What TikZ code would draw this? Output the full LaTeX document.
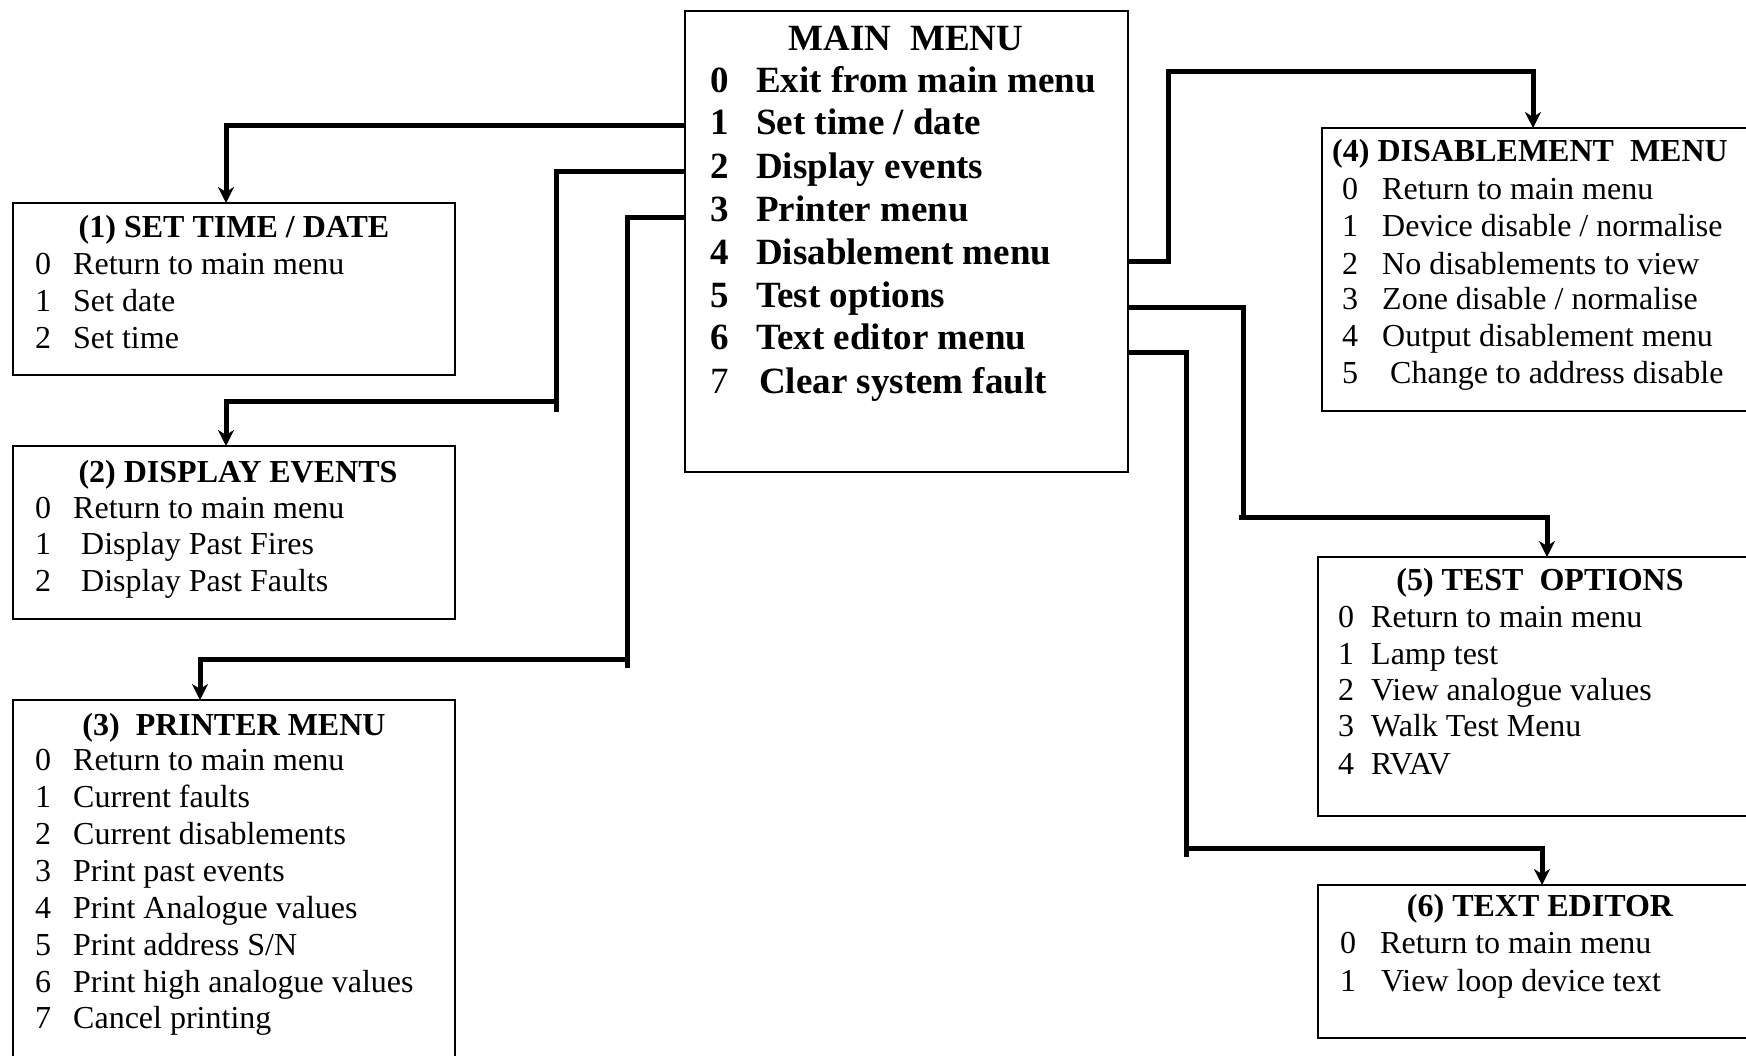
\documentclass[tikz,border=0pt]{standalone}
\usepackage{fontspec}
\setmainfont{Liberation Serif}
\usetikzlibrary{arrows.meta}
\begin{document}
\begin{tikzpicture}[x=1pt,y=-1pt,
  menubox/.style={draw, line width=2pt, anchor=north west, inner sep=0pt, outer sep=0pt},
  link/.style={line width=5pt, line join=miter},
  tip/.style={-{Stealth[length=16pt,width=16pt,inset=5pt]}},
  st/.style={anchor=mid west, inner sep=0pt, font=\fontsize{32}{36}\selectfont},
  sb/.style={anchor=mid, inner sep=0pt, font=\fontsize{32}{36}\selectfont\bfseries},
  mt/.style={anchor=mid west, inner sep=0pt, font=\fontsize{37}{43}\selectfont\bfseries},
  mr/.style={anchor=mid west, inner sep=0pt, font=\fontsize{37}{43}\selectfont}]
\useasboundingbox (0,0) rectangle (1746,1056);
\clip (0,0) rectangle (1746,1056);
\fill[white] (0,0) rectangle (1746,1056);

% boxes
\node[menubox, minimum width=443pt, minimum height=461pt] (main) at (685,11) {};
\node[menubox, minimum width=442pt, minimum height=172pt] (b1) at (13,203) {};
\node[menubox, minimum width=442pt, minimum height=173pt] (b2) at (13,446) {};
\node[menubox, minimum width=442pt, minimum height=420pt] (b3) at (13,700) {};
\node[menubox, minimum width=480pt, minimum height=283pt] (b4) at (1322,128) {};
\node[menubox, minimum width=480pt, minimum height=259pt] (b5) at (1318,557) {};
\node[menubox, minimum width=480pt, minimum height=153pt] (b6) at (1318,885) {};

% main menu text
\node[mt, anchor=mid] (mtitle) at (906,48) {MAIN\ \ MENU};
\node[mt] (md0) at (710,90) {0};  \node[mt] (mi0) at (756,90) {Exit from main menu};
\node[mt] (md1) at (710,132) {1}; \node[mt] (mi1) at (756,132) {Set time / date};
\node[mt] (md2) at (710,176) {2}; \node[mt] (mi2) at (756,176) {Display events};
\node[mt] (md3) at (710,219) {3}; \node[mt] (mi3) at (756,219) {Printer menu};
\node[mt] (md4) at (710,262) {4}; \node[mt] (mi4) at (756,262) {Disablement menu};
\node[mt] (md5) at (710,305) {5}; \node[mt] (mi5) at (756,305) {Test options};
\node[mt] (md6) at (710,347) {6}; \node[mt] (mi6) at (756,347) {Text editor menu};
\node[mr] (md7) at (710,391) {7}; \node[mt] (mi7) at (759,391) {Clear system fault};

% box 1
\node[sb] (t1) at (234,235) {(1) SET TIME / DATE};
\node[st] (b1d0) at (35,272) {0}; \node[st] (b1i0) at (73,272) {Return to main menu};
\node[st] (b1d1) at (35,309) {1}; \node[st] (b1i1) at (73,309) {Set date};
\node[st] (b1d2) at (35,346) {2}; \node[st] (b1i2) at (73,346) {Set time};

% box 2
\node[sb] (t2) at (238,480) {(2) DISPLAY EVENTS};
\node[st] (b2d0) at (35,516) {0}; \node[st] (b2i0) at (73,516) {Return to main menu};
\node[st] (b2d1) at (35,552) {1}; \node[st] (b2i1) at (81,552) {Display Past Fires};
\node[st] (b2d2) at (35,589) {2}; \node[st] (b2i2) at (81,589) {Display Past Faults};

% box 3
\node[sb] (t3) at (234,733) {(3)\ \ PRINTER MENU};
\node[st] (b3d0) at (35,768) {0}; \node[st] (b3i0) at (73,768) {Return to main menu};
\node[st] (b3d1) at (35,805) {1}; \node[st] (b3i1) at (73,805) {Current faults};
\node[st] (b3d2) at (35,842) {2}; \node[st] (b3i2) at (73,842) {Current disablements};
\node[st] (b3d3) at (35,879) {3}; \node[st] (b3i3) at (73,879) {Print past events};
\node[st] (b3d4) at (35,916) {4}; \node[st] (b3i4) at (73,916) {Print Analogue values};
\node[st] (b3d5) at (35,953) {5}; \node[st] (b3i5) at (73,953) {Print address S/N};
\node[st] (b3d6) at (35,990) {6}; \node[st] (b3i6) at (73,990) {Print high analogue values};
\node[st] (b3d7) at (35,1026) {7}; \node[st] (b3i7) at (73,1026) {Cancel printing};

% box 4
\node[sb, anchor=mid west] (t4) at (1332,159) {(4) DISABLEMENT\ \ MENU};
\node[st] (b4d0) at (1342,197) {0}; \node[st] (b4i0) at (1382,197) {Return to main menu};
\node[st] (b4d1) at (1342,234) {1}; \node[st] (b4i1) at (1382,234) {Device disable / normalise};
\node[st] (b4d2) at (1342,272) {2}; \node[st] (b4i2) at (1382,272) {No disablements to view};
\node[st] (b4d3) at (1342,307) {3}; \node[st] (b4i3) at (1382,307) {Zone disable / normalise};
\node[st] (b4d4) at (1342,344) {4}; \node[st] (b4i4) at (1382,344) {Output disablement menu};
\node[st] (b4d5) at (1342,381) {5}; \node[st] (b4i5) at (1390,381) {Change to address disable};

% box 5
\node[sb] (t5) at (1540,588) {(5) TEST\ \ OPTIONS};
\node[st] (b5d0) at (1338,625) {0}; \node[st] (b5i0) at (1371,625) {Return to main menu};
\node[st] (b5d1) at (1338,662) {1}; \node[st] (b5i1) at (1371,662) {Lamp test};
\node[st] (b5d2) at (1338,698) {2}; \node[st] (b5i2) at (1371,698) {View analogue values};
\node[st] (b5d3) at (1338,734) {3}; \node[st] (b5i3) at (1371,734) {Walk Test Menu};
\node[st] (b5d4) at (1338,772) {4}; \node[st] (b5i4) at (1371,772) {RVAV};

% box 6
\node[sb] (t6) at (1540,914) {(6) TEXT EDITOR};
\node[st] (b6d0) at (1340,951) {0}; \node[st] (b6i0) at (1380,951) {Return to main menu};
\node[st] (b6d1) at (1340,989) {1}; \node[st] (b6i1) at (1381,989) {View loop device text};

% connector end points
\coordinate (m1) at (main.west |- 0,126);
\coordinate (m2) at (main.west |- 0,172);
\coordinate (m3) at (main.west |- 0,218);
\coordinate (m4) at (main.east |- 0,262);
\coordinate (m5) at (main.east |- 0,308);
\coordinate (m6) at (main.east |- 0,353);
\coordinate (a1) at (b1.north -| 226,0);
\coordinate (a2) at (b2.north -| 226,0);
\coordinate (a3) at (b3.north -| 200,0);
\coordinate (a4) at (b4.north -| 1533,0);
\coordinate (a5) at (b5.north -| 1547,0);
\coordinate (a6) at (b6.north -| 1542,0);

% connectors
\draw[link,tip] (m1) -| (a1);
\draw[link,tip] (m2) -| (556,412) (556,402) -| (a2);
\draw[link,tip] (m3) -| (627,668) (627,659) -| (a3);
\draw[link,tip] (m4) -- (1168,262) -- (1168,72) -| (a4);
\draw[link,tip] (m5) -| (1243,517) (1239,517) -| (a5);
\draw[link,tip] (m6) -| (1186,857) (1186,848) -| (a6);
\end{tikzpicture}
\end{document}
